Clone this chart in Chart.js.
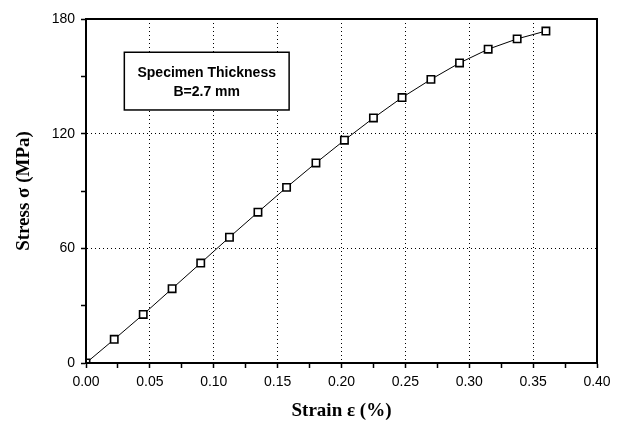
<!DOCTYPE html>
<html>
<head>
<meta charset="utf-8">
<script src="https://cdn.jsdelivr.net/npm/chart.js@4"></script>
<style>
  html, body { margin: 0; padding: 0; background: #fff; }
  #wrap { width: 620px; height: 421px; }
</style>
</head>
<body>
<div id="wrap"><canvas id="myChart"></canvas></div>
<script>

// strain (%) and stress (MPa)
let strain = [0, 0.0221, 0.0448, 0.0674, 0.0898, 0.1123, 0.1346, 0.157, 0.180, 0.2023, 0.225, 0.2474, 0.270, 0.2924, 0.3148, 0.3375, 0.360];
let stress = [0, 12.4, 25.4, 38.9, 52.3, 65.8, 78.9, 91.9, 104.7, 116.6, 128.2, 138.9, 148.4, 157.0, 164.2, 169.6, 173.7];

let boxLines = ["Specimen Thickness", "B=2.7 mm"];


// frame round the plot + the little text box
const frameAndBox = {
  id: 'frameAndBox',
  afterDraw(chart) {
    const ctx = chart.ctx;
    const a = chart.chartArea;
    const xs = chart.scales.x;
    const ys = chart.scales.y;

    // text box, placed in data units
    let l = xs.getPixelForValue(0.03), r = xs.getPixelForValue(0.159);
    let t = ys.getPixelForValue(162.6), b = ys.getPixelForValue(132.4);
    ctx.save();
    ctx.fillStyle = '#fff';
    ctx.fillRect(l, t, r - l, b - t);
    ctx.strokeStyle = '#000';
    ctx.lineWidth = 1.5;
    ctx.strokeRect(l, t, r - l, b - t);
    ctx.fillStyle = '#000';
    ctx.font = 'bold 14px "Liberation Sans", Arial, sans-serif';
    ctx.textAlign = 'center';
    ctx.textBaseline = 'middle';
    let cx = (l + r) / 2;
    ctx.fillText(boxLines[0], cx, t + 21);
    ctx.fillText(boxLines[1], cx, t + 40);

    ctx.lineWidth = 2;
    ctx.strokeRect(a.left, a.top, a.right - a.left, a.bottom - a.top);
    ctx.restore();
  }
};


window.onload = () => {

  const ctx = document.getElementById('myChart');

  new Chart(ctx, {
    type: 'scatter',
    data: {
      datasets: [{
        data: strain.map((s, i) => ({ x: s, y: stress[i] })),
        showLine: true,
        borderColor: '#000',
        borderWidth: 1,
        pointStyle: 'rect',
        pointRadius: 5.2,
        pointBackgroundColor: '#fff',
        pointBorderColor: '#000',
        pointBorderWidth: 1.6
      }]
    },
    options: {
      responsive: true,
      maintainAspectRatio: false,
      animation: false,
      layout: { padding: { top: 19, right: 23, left: 0, bottom: 0 } },
      plugins: { legend: { display: false }, tooltip: { enabled: false } },
      scales: {
        x: {
          type: 'linear',
          min: 0, max: 0.4,
          afterFit: (scale) => { scale.height = 58; },
          ticks: {
            stepSize: 0.025,
            autoSkip: false,
            maxRotation: 0,
            padding: 6,
            color: '#000',
            font: { family: '"Liberation Sans", Arial, sans-serif', size: 14 },
            callback: (v, i) => i % 2 === 0 ? v.toFixed(2) : ''
          },
          grid: {
            color: (c) => (c.index % 2 === 0 && c.index > 0 && c.index < 16) ? '#000' : 'rgba(0,0,0,0)',
            lineWidth: 1,
            tickColor: '#000',
            tickWidth: 1.5,
            tickLength: 5
          },
          border: { color: '#000', width: 2, dash: [1, 3] },
          title: {
            display: true,
            text: 'Strain ε (%)',
            color: '#000',
            padding: { top: 0, bottom: -1 },
            font: { family: '"Liberation Serif", "Times New Roman", serif', size: 19, weight: 'bold' }
          }
        },
        y: {
          min: 0, max: 180,
          afterFit: (scale) => { scale.width = 86; },
          ticks: {
            stepSize: 30,
            autoSkip: false,
            padding: 6,
            color: '#000',
            font: { family: '"Liberation Sans", Arial, sans-serif', size: 14 },
            callback: (v) => v % 60 === 0 ? v : ''
          },
          grid: {
            color: (c) => (c.tick && c.tick.value % 60 === 0 && c.tick.value > 0 && c.tick.value < 180) ? '#000' : 'rgba(0,0,0,0)',
            lineWidth: 1,
            tickColor: '#000',
            tickWidth: 1.5,
            tickLength: 5
          },
          border: { color: '#000', width: 2, dash: [1, 3] },
          title: {
            display: true,
            text: 'Stress σ (MPa)',
            color: '#000',
            padding: { top: 13, bottom: 0 },
            font: { family: '"Liberation Serif", "Times New Roman", serif', size: 19, weight: 'bold' }
          }
        }
      }
    },
    plugins: [frameAndBox]
  });

}

</script>
</body>
</html>
